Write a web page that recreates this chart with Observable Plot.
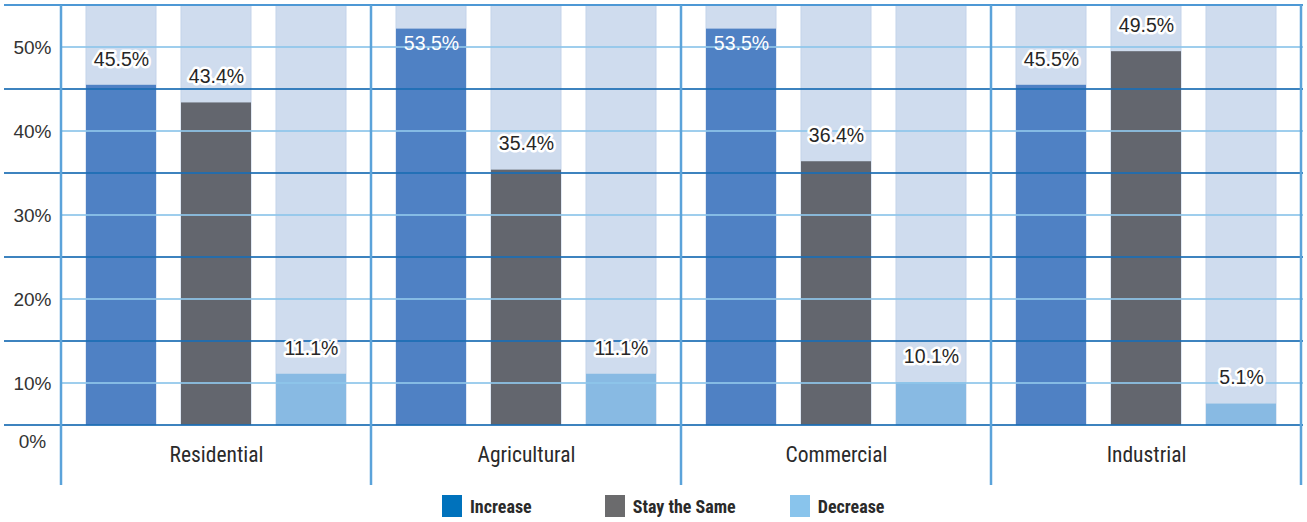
<!DOCTYPE html>
<html><head><meta charset="utf-8">
<script src="https://cdn.jsdelivr.net/npm/d3@7"></script>
<script src="https://cdn.jsdelivr.net/npm/@observablehq/plot@0.6"></script>
<style>
body{margin:0;background:#fff;font-family:Roboto,sans-serif;}
#legend{display:flex;padding-left:442px;margin-top:7px;font-family:"Liberation Sans Narrow","Roboto Condensed",Roboto,sans-serif;font-weight:bold;font-size:18px;color:#2a2a2a}
.item{display:flex;align-items:center;gap:8px}
.item:nth-child(1){margin-right:73px}
.item:nth-child(2){margin-right:54px}
.sw{width:20px;height:22px}
</style></head><body><div id="chart"></div><div id="legend"></div>
<script>
const categories = ["Residential", "Agricultural", "Commercial", "Industrial"];
const series = ["Increase", "Stay the Same", "Decrease"];
const increase = [45.5, 53.5, 53.5, 45.5];
const stayTheSame = [43.4, 35.4, 36.4, 49.5];
const decrease = [11.1, 11.1, 10.1, 5.1];
const yTicks = [10, 20, 30, 40, 50];
const zeroTick = [0];
const lightGrid = [10, 20, 30, 40, 50];
const darkGrid = [0, 15, 25, 35, 45];

const barColors = ["#4f81c4", "#63666e", "#88bae3"];
const legendColors = ["#0072bc", "#6b6b6d", "#89c4ec"];

const valuesBySeries = [increase, stayTheSame, decrease];
const rows = [];
categories.forEach((c, i) => series.forEach((s, j) => rows.push({category: c, series: s, value: valuesBySeries[j][i]})));

const W = 1307, H = 488;
const yMax = 58;
// the reference's value axis is piecewise: 0–10% is half as tall as the later 10% bands, above 50% it compresses
const yWarp = v => v <= 10 ? v * 0.5 : v <= 50 ? v - 5 : 45 + (v - 50) * 0.625;
const fmt = d => d.toFixed(1) + "%";
const sans = "'Liberation Sans', Arial, sans-serif";
const narrow = "'Liberation Sans Narrow', 'Roboto Condensed', Roboto, sans-serif";

const plot = Plot.plot({
  width: W, height: H,
  marginTop: 5, marginBottom: 63, marginLeft: 61, marginRight: 6,
  style: {fontFamily: sans, color: "#333", background: "#fff"},
  fx: {domain: categories, padding: 0, label: null},
  x: {domain: series, paddingInner: 0.26, paddingOuter: 0.26, axis: null},
  y: {transform: yWarp, domain: [yWarp(0), yWarp(yMax)], label: null},
  color: {domain: series, range: barColors},
  marks: [
    Plot.barY(rows, {fx: "category", x: "series", y1: 0, y2: yMax, fill: "#cfdcee", stroke: "#c3d3ea", strokeWidth: 1}),
    Plot.barY(rows, {fx: "category", x: "series", y: "value", fill: "series"}),
    Plot.axisY(yTicks, {tickSize: 0, tickPadding: 29, textAnchor: "middle", fontSize: 19, fontFamily: sans, tickFormat: d => d + "%", label: null}),
    Plot.axisY(zeroTick, {tickSize: 0, tickPadding: 29, textAnchor: "middle", fontSize: 19, fontFamily: sans, dy: 16, tickFormat: d => d + "%", label: null}),
    Plot.axisFx({anchor: "bottom", tickSize: 0, tickPadding: 21, fontSize: 21.5, fontFamily: narrow, fill: "#2a2a2a", label: null}),
    Plot.text(rows.filter(d => d.value <= 50), {fx: "category", x: "series", y: "value", text: d => fmt(d.value), dy: -26, fontSize: 19.5, fontFamily: sans, fill: "#262626", stroke: "white", strokeWidth: 5}),
    Plot.text(rows.filter(d => d.value > 50), {fx: "category", x: "series", y: "value", text: d => fmt(d.value), dy: 15, fontSize: 19.5, fontFamily: sans, fill: "white"})
  ]
});

document.getElementById("chart").appendChild(plot);

// grid lines and facet separators drawn from the plot's own scales
const yS = plot.scale("y"), fxS = plot.scale("fx");
const applyIncludesTransform = Math.abs(yS.apply(yMax) - yS.apply(yWarp(yMax))) > 1 && Math.abs(yS.apply(yMax) - 5) < 1;
const yPix = v => applyIncludesTransform ? yS.apply(v) : yS.apply(yWarp(v));
const svg = d3.select(plot);
const g = svg.insert("g", 'g[aria-label="text"]').attr("aria-label", "grid");
const x0 = 4, xL = 61, x1 = W - 4;
g.selectAll("line.dark").data(darkGrid).join("line")
  .attr("x1", x0).attr("x2", x1).attr("y1", d => yPix(d)).attr("y2", d => yPix(d))
  .attr("stroke", "#1b6db4").attr("stroke-width", 2).attr("stroke-opacity", 0.85);
g.selectAll("line.light").data(lightGrid).join("line")
  .attr("x1", xL).attr("x2", x1).attr("y1", d => yPix(d)).attr("y2", d => yPix(d))
  .attr("stroke", "#8ec5ea").attr("stroke-width", 2).attr("stroke-opacity", 0.85);
g.append("line").attr("x1", x0).attr("x2", x1).attr("y1", yPix(yMax)).attr("y2", yPix(yMax))
  .attr("stroke", "#4d98d5").attr("stroke-width", 2);
const edges = categories.map(c => fxS.apply(c)).concat([fxS.apply(categories[categories.length - 1]) + fxS.bandwidth]);
g.selectAll("line.sep").data(edges).join("line")
  .attr("x1", d => d).attr("x2", d => d).attr("y1", yPix(yMax)).attr("y2", H - 3)
  .attr("stroke", "#5ba3da").attr("stroke-width", 2.5);

// legend
const legend = d3.select("#legend");
series.forEach((s, i) => {
  const it = legend.append("div").attr("class", "item");
  it.append("div").attr("class", "sw").style("background", legendColors[i]);
  it.append("span").text(s);
});
</script></body></html>
